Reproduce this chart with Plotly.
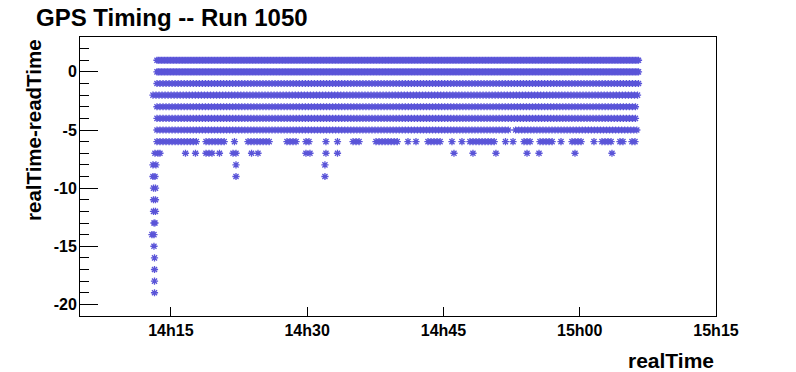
import numpy as np
import pandas as pd
import plotly.graph_objects as go

BASE = pd.Timestamp("2010-01-01 14:00:00")

# ---- data: realTime - readTime (s) versus realTime (minutes after 14:00) ----
# dense rows: intervals (minutes after 14:00) in which events are recorded continuously
seg_p1 = [(13.47, 66.63)]
seg_0 = [(13.47, 66.52)]
seg_m1 = [(13.47, 66.63)]
seg_m2 = [(13.03, 66.41)]
seg_m3 = [(13.47, 66.41)]
seg_m4 = [(13.47, 66.41)]
seg_m5 = [(13.47, 52.44), (52.95, 66.41)]
seg_m6 = [(13.47, 18.10), (18.87, 20.96), (22.00, 22.00), (23.49, 26.13),
          (27.78, 28.99), (29.87, 30.31), (32.07, 32.07), (33.34, 33.34),
          (35.05, 35.93), (37.58, 40.22), (41.10, 41.10), (41.98, 41.98),
          (43.30, 44.95), (45.94, 46.27), (47.04, 47.04), (47.92, 50.90),
          (51.83, 51.83), (52.66, 52.66), (53.87, 54.75), (55.63, 57.06),
          (57.94, 58.27), (59.15, 60.36), (61.57, 61.57), (62.45, 63.66),
          (64.43, 64.87), (65.75, 66.41)]
dense_levels = [1, 0, -1, -2, -3, -4, -5, -6]
dense_segments = [seg_p1, seg_0, seg_m1, seg_m2, seg_m3, seg_m4, seg_m5, seg_m6]
event_step_sec = [10, 10, 20, 20, 20, 20, 20, 20]

# sparse rows: individual events (minutes after 14:00)
t_m7 = [13.25, 13.58, 13.80, 16.61, 17.71, 18.87, 19.20, 19.53, 20.35, 21.84,
        22.17, 23.88, 24.59, 29.87, 30.31, 32.07, 33.34, 46.16, 48.25, 50.78,
        54.20, 55.52, 59.48, 63.55]
t_m8 = [13.03, 13.36, 22.17, 31.96]
t_m9 = [13.03, 13.25, 22.17, 31.96]
t_m10 = [13.09, 13.31]
t_m11 = [13.09, 13.31]
t_m12 = [13.09, 13.31]
t_m13 = [13.14, 13.25]
t_m14 = [12.92, 13.14]
t_m15 = [13.14]
t_m16 = [13.20]
t_m17 = [13.20]
t_m18 = [13.20]
t_m19 = [13.20]
sparse_levels = [-7, -8, -9, -10, -11, -12, -13, -14, -15, -16, -17, -18, -19]
sparse_times = [t_m7, t_m8, t_m9, t_m10, t_m11, t_m12, t_m13, t_m14, t_m15,
                t_m16, t_m17, t_m18, t_m19]

x_tick_labels = ["14h15", "14h30", "14h45", "15h00", "15h15"]
x_tick_minutes = [15, 30, 45, 60, 75]
x_range_minutes = [5, 75]
y_tick_values = [-20, -15, -10, -5, 0]
y_tick_labels = ["-20", "-15", "-10", "-5", "0"]
y_range = [-21, 3]

# ---- assemble ----
xs, ys = [], []
for lvl, segs, step in zip(dense_levels, dense_segments, event_step_sec):
    for a, b in segs:
        tt = np.arange(a, b + 1e-9, step / 60.0)
        xs.extend(tt)
        ys.extend([lvl] * len(tt))
for lvl, tt in zip(sparse_levels, sparse_times):
    xs.extend(tt)
    ys.extend([lvl] * len(tt))

def to_time(m):
    return BASE + pd.to_timedelta(np.asarray(m, dtype=float), unit="m")

C = "#5a54d8"
FONT = "Liberation Sans, Arial, sans-serif"

fig = go.Figure()
fig.add_trace(go.Scatter(
    x=to_time(xs), y=ys, mode="markers",
    marker=dict(symbol="asterisk-open", size=6, color=C,
                line=dict(color=C, width=1.3)),
    hoverinfo="skip", showlegend=False))

fig.update_layout(
    width=796, height=372,
    margin=dict(l=80, r=80, t=37, b=56),
    paper_bgcolor="white", plot_bgcolor="white",
    font=dict(family=FONT, color="black"),
)
fig.update_xaxes(
    type="date", range=list(to_time(x_range_minutes)), automargin=False,
    tickmode="array", tickvals=list(to_time(x_tick_minutes)), ticktext=x_tick_labels,
    ticks="inside", ticklen=9, tickcolor="black", tickwidth=1,
    showline=True, linecolor="black", linewidth=1, mirror=True,
    showgrid=False, zeroline=False,
    tickfont=dict(family=FONT, size=16, color="black", weight="bold"),
)
fig.update_yaxes(
    range=y_range, automargin=False,
    tickmode="array", tickvals=y_tick_values, ticktext=y_tick_labels,
    ticks="inside", ticklen=18, tickcolor="black", tickwidth=1,
    minor=dict(ticks="inside", ticklen=9, tickmode="linear", tick0=0, dtick=1,
               tickcolor="black", tickwidth=1, showgrid=False),
    showline=True, linecolor="black", linewidth=1, mirror=True,
    showgrid=False, zeroline=False,
    tickfont=dict(family=FONT, size=16, color="black", weight="bold"),
    ticklabelstandoff=-1,
)

fig.add_annotation(text="GPS Timing -- Run 1050", xref="paper", yref="paper",
                   x=(34 - 80) / 636, y=(316 - 2) / 279, xanchor="left", yanchor="top",
                   showarrow=False, font=dict(family=FONT, size=24, weight="bold"))
fig.add_annotation(text="realTime", xref="paper", yref="paper",
                   x=1.0, y=(316 - 360) / 279, xanchor="right", yanchor="middle",
                   showarrow=False, font=dict(family=FONT, size=21, weight="bold"))
fig.add_annotation(text="realTime-readTime", xref="paper", yref="paper",
                   x=(33 - 80) / 636, y=(316 - 37) / 279, xanchor="center", yanchor="top",
                   textangle=-90, showarrow=False,
                   font=dict(family=FONT, size=20.5, weight="bold"))

fig.write_html("out.html", config={"displayModeBar": False})

# remove the browser's default page margin so the figure sits at (0, 0)
with open("out.html", "r", encoding="utf-8") as fh:
    html = fh.read()
html = html.replace("<head>", "<head><style>html,body{margin:0;padding:0;overflow:hidden;}</style>", 1)
with open("out.html", "w", encoding="utf-8") as fh:
    fh.write(html)
